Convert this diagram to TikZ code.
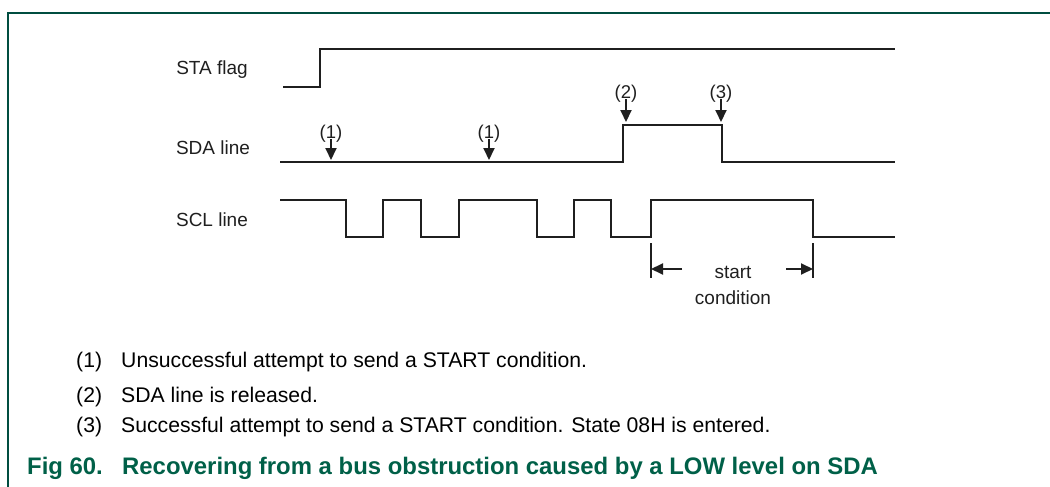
\documentclass[tikz,border=0pt]{standalone}
\usepackage{fontspec}
\setmainfont{Liberation Sans}
\usepackage{tikz}
\usetikzlibrary{arrows.meta, positioning, calc}
\usepackage{xcolor}
\definecolor{framegreen}{RGB}{0,77,64}
\definecolor{captiongreen}{RGB}{0,96,72}

\begin{document}
\begin{tikzpicture}[
        x=1pt, y=-1pt,
        sig/.style={line width=2.3pt, line join=miter, draw=black!88},
        lbl/.style={font=\fontsize{19}{26}\selectfont, inner sep=0pt, align=center, text=black!88},
        tag/.style={font=\fontsize{18.5}{20}\selectfont, inner sep=0pt, text=black!88},
        pointer/.style={-{Triangle[length=12pt, width=11pt]}, line width=2pt, draw=black!88},
        bar/.style={line width=1.8pt, draw=black!88},
        note/.style={font=\fontsize{21.2}{23}\selectfont, anchor=base west, inner sep=0pt},
        caption/.style={font=\bfseries\fontsize{23.9}{26}\selectfont, text=captiongreen, anchor=base west, inner sep=0pt}
    ]
        \useasboundingbox (0,0) rectangle (1050,487);

        % frame
        \draw[framegreen, line width=1.6pt] (8,487) -- (8,13) -- (1050,13);

        % signal names
        \node[lbl] (staname) at (212,70) {STA flag};
        \node[lbl] (sdaname) at (213,148) {SDA line};
        \node[lbl] (sclname) at (212,220) {SCL line};

        % waveforms
        \draw[sig] (283,87) -- (320,87) -- (320,49) -- (895,49);
        \draw[sig] (280,162) -- (623,162) -- (623,125) -- (722,125) -- (722,162) -- (895,162);
        \draw[sig] (280,200) -- (346,200) -- (346,237) -- (383,237) -- (383,200) -- (421,200) -- (421,237)
            -- (459,237) -- (459,200) -- (537,200) -- (537,237) -- (574,237) -- (574,200) -- (611,200)
            -- (611,237) -- (651,237) -- (651,200) -- (813,200) -- (813,237) -- (895,237);

        % event markers
        \coordinate (tipa) at (331,160);
        \coordinate (tipb) at (489,160);
        \coordinate (tipc) at (626,122);
        \coordinate (tipd) at (721,122);
        \node[tag] (marka) at (331,134) {(1)};
        \node[tag] (markb) at (489,134) {(1)};
        \node[tag] (markc) at (626,94) {(2)};
        \node[tag] (markd) at (721,94) {(3)};
        \draw[pointer] (marka.center) ++(0,5) -- (tipa);
        \draw[pointer] (markb.center) ++(0,5) -- (tipb);
        \draw[pointer] (markc.center) ++(0,5) -- (tipc);
        \draw[pointer] (markd.center) ++(0,5) -- (tipd);

        % start condition
        \coordinate (scleft) at (651,269);
        \coordinate (scright) at (813,269);
        \draw[bar] (651,243) -- (651,278);
        \draw[bar] (813,243) -- (813,278);
        \node[lbl] (startcond) at (733,285) {start\\condition};
        \draw[pointer] ($(scleft)+(31,0)$) -- (scleft);
        \draw[pointer] ($(scright)+(-27,0)$) -- (scright);

        % notes
        \node[note] (numa) at (76,367) {(1)};
        \node[note] (notea) at (121,367) {Unsuccessful attempt to send a START condition.};
        \node[note] (numb) at (76,402) {(2)};
        \node[note] (noteb) at (121,402) {SDA line is released.};
        \node[note] (numc) at (76,432) {(3)};
        \node[note] (notec) at (121,432) {Successful attempt to send a START condition. State 08H is entered.};

        % caption
        \node[caption] (fignum) at (27,474) {Fig 60.};
        \node[caption] (figtitle) at (122,474) {Recovering from a bus obstruction caused by a LOW level on SDA};
    \end{tikzpicture}
\end{document}
